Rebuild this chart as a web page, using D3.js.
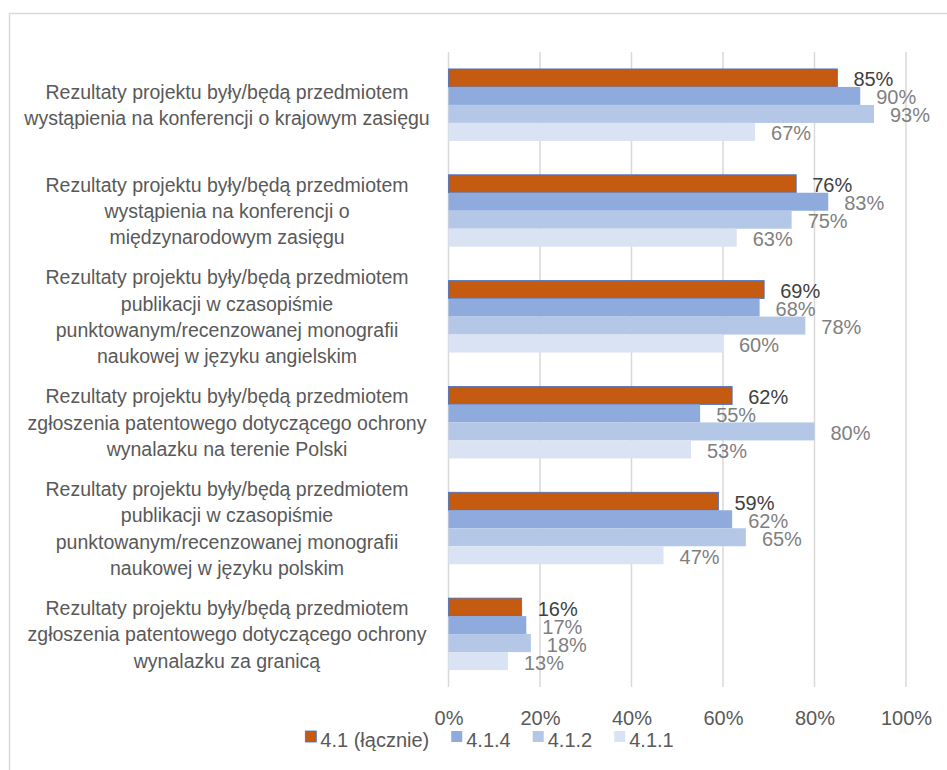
<!DOCTYPE html>
<html>
<head>
<meta charset="utf-8">
<script src="https://cdn.jsdelivr.net/npm/d3@7"></script>
<style>
  html, body { margin: 0; padding: 0; background: #ffffff; }
  svg { display: block; }
  text { font-family: "Liberation Sans", Arial, sans-serif; }
</style>
</head>
<body>
<svg id="chart" width="947" height="770"></svg>
<script>
// ---- data ----
const categoryLines = [
  ["Rezultaty projektu były/będą przedmiotem", "wystąpienia na konferencji o krajowym zasięgu"],
  ["Rezultaty projektu były/będą przedmiotem", "wystąpienia na konferencji o", "międzynarodowym zasięgu"],
  ["Rezultaty projektu były/będą przedmiotem", "publikacji w czasopiśmie", "punktowanym/recenzowanej monografii", "naukowej w języku angielskim"],
  ["Rezultaty projektu były/będą przedmiotem", "zgłoszenia patentowego dotyczącego ochrony", "wynalazku na terenie Polski"],
  ["Rezultaty projektu były/będą przedmiotem", "publikacji w czasopiśmie", "punktowanym/recenzowanej monografii", "naukowej w języku polskim"],
  ["Rezultaty projektu były/będą przedmiotem", "zgłoszenia patentowego dotyczącego ochrony", "wynalazku za granicą"]
];
const categories = categoryLines.map(l => l.join(" "));
const seriesNames = ["4.1 (łącznie)", "4.1.4", "4.1.2", "4.1.1"];
const values_41 =  [85, 76, 69, 62, 59, 16];
const values_414 = [90, 83, 68, 55, 62, 17];
const values_412 = [93, 75, 78, 80, 65, 18];
const values_411 = [67, 63, 60, 53, 47, 13];
const tickValues = [0, 20, 40, 60, 80, 100];
const tickLabels = ["0%", "20%", "40%", "60%", "80%", "100%"];

const seriesValues = [values_41, values_414, values_412, values_411];
const colors = ["#C55A11", "#8FAADC", "#B4C7E7", "#DAE3F3"];
const labelColors = ["#404040", "#7f7f7f", "#7f7f7f", "#7f7f7f"];

// ---- layout ----
const svg = d3.select("#chart");
const plot = { left: 448.5, right: 906, top: 52, bottom: 687 };

// outer border
svg.append("rect")
  .attr("x", 9.5).attr("y", 13.5)
  .attr("width", 1000).attr("height", 1000)
  .attr("fill", "none").attr("stroke", "#d9d9d9").attr("stroke-width", 1.5);

const x = d3.scaleLinear().domain([0, 100]).range([plot.left, plot.right]);
const y = d3.scaleBand().domain(categories).range([plot.top, plot.bottom])
  .paddingInner(0.32).paddingOuter(0.16);
const ySub = d3.scaleBand().domain(seriesNames).range([0, y.bandwidth()]).padding(0);

// gridlines
svg.append("g").selectAll("line").data(tickValues).join("line")
  .attr("x1", d => x(d)).attr("x2", d => x(d))
  .attr("y1", plot.top).attr("y2", plot.bottom)
  .attr("stroke", "#d9d9d9").attr("stroke-width", 1.5);

// axis tick labels via d3 axis
const axis = d3.axisBottom(x).tickValues(tickValues)
  .tickFormat((d, i) => tickLabels[i]).tickSize(0).tickPadding(0);
const axG = svg.append("g").attr("transform", `translate(0, 725)`).call(axis);
axG.select(".domain").remove();
axG.selectAll("text")
  .attr("y", 0).attr("dy", 0)
  .attr("fill", "#595959")
  .style("font-size", "20px")
  .style("font-family", '"Liberation Sans", Arial, sans-serif');

// bars
const rows = categories.map((c, ci) => ({ c, ci }));
const groups = svg.append("g").selectAll("g").data(rows).join("g")
  .attr("transform", d => `translate(0, ${y(d.c)})`);

groups.each(function(row) {
  const g = d3.select(this);
  seriesNames.forEach((s, si) => {
    const v = seriesValues[si][row.ci];
    g.append("rect")
      .attr("x", x(0))
      .attr("y", ySub(s))
      .attr("width", x(v) - x(0))
      .attr("height", ySub.bandwidth())
      .attr("fill", colors[si])
      .attr("stroke", si === 0 ? "#4472C4" : "none")
      .attr("stroke-width", si === 0 ? 0.8 : 0);
  });
  seriesNames.forEach((s, si) => {
    const v = seriesValues[si][row.ci];
    g.append("text")
      .attr("x", x(v) + 16)
      .attr("y", ySub(s) + ySub.bandwidth() - 0.5)
      .attr("fill", labelColors[si])
      .style("font-size", "20px")
      .text(v + "%");
  });
});

// category labels
const lh = 26.3;
const catG = svg.append("g");
rows.forEach(row => {
  const lines = categoryLines[row.ci];
  const cy = y(row.c) + y.bandwidth() / 2;
  const n = lines.length;
  lines.forEach((ln, i) => {
    catG.append("text")
      .attr("x", 227)
      .attr("y", cy + (i - (n - 1) / 2) * lh + 7.2)
      .attr("text-anchor", "middle")
      .attr("fill", "#595959")
      .style("font-size", "19.5px")
      .text(ln);
  });
});

// legend
const legG = svg.append("g");
let lx = 0;
const items = [];
seriesNames.forEach((s, si) => {
  const it = legG.append("g");
  it.append("rect")
    .attr("x", 0).attr("y", 731).attr("width", 11).attr("height", 11)
    .attr("fill", colors[si])
    .attr("stroke", si === 0 ? "#4472C4" : "none")
    .attr("stroke-width", si === 0 ? 0.8 : 0);
  const t = it.append("text")
    .attr("x", 15).attr("y", 747)
    .attr("fill", "#595959")
    .style("font-size", "20px")
    .text(s);
  const w = 15 + t.node().getComputedTextLength();
  items.push({ it, w });
});
const gap = 22;
const total = items.reduce((a, b) => a + b.w, 0) + gap * (items.length - 1);
let cx = 489.5 - total / 2;
items.forEach(({ it, w }) => {
  it.attr("transform", `translate(${cx}, 0)`);
  cx += w + gap;
});
</script>
</body>
</html>
